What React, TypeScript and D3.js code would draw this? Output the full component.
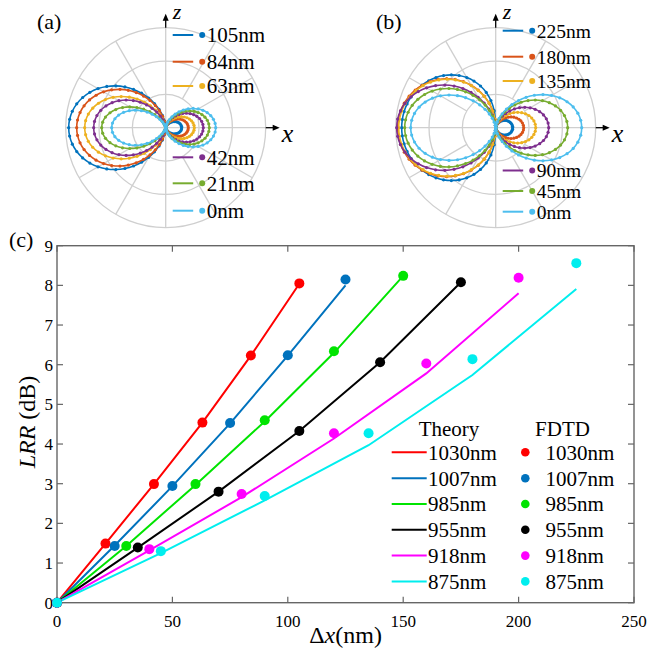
import React from "react";
import * as d3 from "d3";

const FONT = "Liberation Serif";

// ---------- Panel (c) data ----------
const wavelengths = ["1030nm", "1007nm", "985nm", "955nm", "918nm", "875nm"];
const lineColors = ["#ff0000", "#0072bd", "#00e400", "#000000", "#ff00ff", "#00eeee"];
const dx1030 = [0, 21, 42, 63, 84, 105];
const dx1007 = [0, 25, 50, 75, 100, 125];
const dx985 = [0, 30, 60, 90, 120, 150];
const dx955 = [0, 35, 70, 105, 140, 175];
const dx918 = [0, 40, 80, 120, 160, 200];
const dx875 = [0, 45, 90, 135, 180, 225];
const theory1030 = [0, 1.49, 2.99, 4.54, 6.23, 8.04];
const theory1007 = [0, 1.44, 2.94, 4.52, 6.23, 8.0];
const theory985 = [0, 1.43, 2.97, 4.57, 6.3, 8.24];
const theory955 = [0, 1.39, 2.8, 4.33, 6.06, 8.08];
const theory918 = [0, 1.32, 2.66, 4.14, 5.78, 7.8];
const theory875 = [0, 1.25, 2.58, 3.97, 5.74, 7.91];
const fdtd1030 = [0, 1.49, 2.99, 4.54, 6.23, 8.05];
const fdtd1007 = [0, 1.43, 2.94, 4.53, 6.24, 8.15];
const fdtd985 = [0, 1.43, 2.99, 4.6, 6.34, 8.24];
const fdtd955 = [0, 1.39, 2.8, 4.33, 6.06, 8.08];
const fdtd918 = [0, 1.35, 2.74, 4.27, 6.03, 8.19];
const fdtd875 = [0, 1.3, 2.69, 4.27, 6.14, 8.56];
const xTicks = [0, 50, 100, 150, 200, 250];
const yTicks = [0, 1, 2, 3, 4, 5, 6, 7, 8, 9];

const dxSeries = [dx1030, dx1007, dx985, dx955, dx918, dx875];
const theorySeries = [theory1030, theory1007, theory985, theory955, theory918, theory875];
const fdtdSeries = [fdtd1030, fdtd1007, fdtd985, fdtd955, fdtd918, fdtd875];

// ---------- Polar panels data ----------
// normalized lobe profiles, sampled every 5 degrees from lobe axis (0..90 deg)
const profileP07 = [1, 0.9973, 0.9893, 0.976, 0.9574, 0.9334, 0.9042, 0.8697, 0.8298, 0.7846, 0.7339, 0.6778, 0.6156, 0.5472, 0.4719, 0.3882, 0.2936, 0.1813, 0];
const profileP10 = [1, 0.9962, 0.9848, 0.9659, 0.9397, 0.9063, 0.866, 0.8192, 0.766, 0.7071, 0.6428, 0.5736, 0.5, 0.4226, 0.342, 0.2588, 0.1736, 0.0872, 0];
const profileP15 = [1, 0.9943, 0.9773, 0.9493, 0.9109, 0.8628, 0.8059, 0.7415, 0.6704, 0.5946, 0.5153, 0.4344, 0.3536, 0.2747, 0.2, 0.1317, 0.0723, 0.0258, 0];
const profileP20 = [1, 0.9924, 0.9698, 0.933, 0.883, 0.8214, 0.75, 0.671, 0.5868, 0.5, 0.4132, 0.329, 0.25, 0.1786, 0.117, 0.067, 0.0302, 0.0076, 0];
const profileP30 = [1, 0.9886, 0.9551, 0.9012, 0.8298, 0.7444, 0.6495, 0.5497, 0.4495, 0.3536, 0.2656, 0.1887, 0.125, 0.0755, 0.04, 0.0173, 0.0052, 0.0007, 0];
const profileStepDeg = 5;

const polarColors = ["#0072BD", "#D95319", "#EDB120", "#7E2F8E", "#77AC30", "#4DBEEE"];
const labelsA = ["105nm", "84nm", "63nm", "42nm", "21nm", "0nm"];
const leftAmpA = [0.97, 0.89, 0.81, 0.72, 0.64, 0.54];
const rightAmpA = [0.16, 0.226, 0.286, 0.376, 0.436, 0.5];
const leftShapeA = [profileP15, profileP15, profileP20, profileP20, profileP30, profileP30];
const rightShapeA = [profileP20, profileP20, profileP20, profileP20, profileP20, profileP20];

const labelsB = ["225nm", "180nm", "135nm", "90nm", "45nm", "0nm"];
const leftAmpB = [0.94, 0.98, 0.97, 0.99, 0.91, 0.85];
const rightAmpB = [0.17, 0.28, 0.4, 0.53, 0.72, 0.86];
const leftShapeB = [profileP07, profileP10, profileP10, profileP15, profileP15, profileP20];
const rightShapeB = [profileP15, profileP20, profileP20, profileP20, profileP20, profileP20];

const ringLevels = [1 / 3, 2 / 3, 1];
const spokeAngles = [30, 60, 120, 150, 210, 240, 300, 330];

type PolarProps = {
  cx: number;
  cy: number;
  R: number;
  tag: string;
  tagX: number;
  labels: string[];
  leftAmp: number[];
  rightAmp: number[];
  leftShape: number[][];
  rightShape: number[][];
  legendY: number[];
  legendFont: number;
};

function lobePoints(amp: number, prof: number[], axisDeg: number) {
  const n = prof.length - 1;
  const pts: { a: number; r: number }[] = [];
  for (let j = -n; j <= n; j++) {
    const k = Math.abs(j);
    pts.push({ a: ((axisDeg + j * profileStepDeg) * Math.PI) / 180, r: amp * prof[k] });
  }
  return pts;
}

function PolarPanel(p: PolarProps) {
  const { cx, cy, R } = p;
  const rs = d3.scaleLinear().domain([0, 1]).range([0, R]);
  const px = (d: { a: number; r: number }) => cx + rs(d.r) * Math.cos(d.a);
  const py = (d: { a: number; r: number }) => cy - rs(d.r) * Math.sin(d.a);
  const line = d3.line<{ a: number; r: number }>().x(px).y(py).curve(d3.curveCatmullRom);
  const grid = "#cfcfcf";
  return (
    <g>
      {ringLevels.map((l, i) => (
        <circle key={i} cx={cx} cy={cy} r={rs(l)} fill="none" stroke={grid} strokeWidth={1.3} />
      ))}
      {spokeAngles.map((a, i) => {
        const t = (a * Math.PI) / 180;
        return (
          <line key={i} x1={cx + rs(1 / 3) * Math.cos(t)} y1={cy - rs(1 / 3) * Math.sin(t)}
            x2={cx + rs(1) * Math.cos(t)} y2={cy - rs(1) * Math.sin(t)} stroke={grid} strokeWidth={1.3} />
        );
      })}
      <line x1={cx - R} y1={cy} x2={cx + R} y2={cy} stroke={grid} strokeWidth={1.3} />
      <line x1={cx} y1={cy - R} x2={cx} y2={cy + R} stroke={grid} strokeWidth={1.3} />
      <line x1={cx + R} y1={cy} x2={cx + R + 9} y2={cy} stroke="#000" strokeWidth={1.3} />
      <polygon points={`${cx + R + 14},${cy} ${cx + R + 7},${cy - 3} ${cx + R + 7},${cy + 3}`} fill="#000" />
      <line x1={cx} y1={cy - R} x2={cx} y2={cy - R - 9} stroke="#000" strokeWidth={1.3} />
      <polygon points={`${cx},${cy - R - 14} ${cx - 3},${cy - R - 7} ${cx + 3},${cy - R - 7}`} fill="#000" />
      <text x={cx + 7} y={cy - R - 9} fontFamily={FONT} fontStyle="italic" fontSize={22}>z</text>
      <text x={cx + R + 16} y={cy + 14} fontFamily={FONT} fontStyle="italic" fontSize={26}>x</text>
      <text x={p.tagX} y={cy - R + 1} fontFamily={FONT} fontSize={22}>{p.tag}</text>
      {p.labels.map((lab, i) => {
        const L = lobePoints(p.leftAmp[i], p.leftShape[i], 180);
        const Rt = lobePoints(p.rightAmp[i], p.rightShape[i], 0);
        const c = polarColors[i];
        return (
          <g key={lab}>
            <path d={line(L) || ""} fill="none" stroke={c} strokeWidth={1.6} />
            <path d={line(Rt) || ""} fill="none" stroke={c} strokeWidth={1.6} />
            {L.concat(Rt).map((d, k) => (
              <circle key={k} cx={px(d)} cy={py(d)} r={1.6} fill={c} />
            ))}
          </g>
        );
      })}
      {p.labels.map((lab, i) => (
        <g key={"lg" + lab}>
          <line x1={cx + 7} x2={cx + 27.5} y1={p.legendY[i]} y2={p.legendY[i]} stroke={polarColors[i]} strokeWidth={2} />
          <circle cx={cx + 36.5} cy={p.legendY[i]} r={3} fill={polarColors[i]} />
          <text x={cx + 41} y={p.legendY[i]} dy="0.35em" fontFamily={FONT} fontSize={p.legendFont}>{lab}</text>
        </g>
      ))}
    </g>
  );
}

function LRRChart() {
  const x = d3.scaleLinear().domain([0, 250]).range([57, 634]);
  const y = d3.scaleLinear().domain([0, 9]).range([602.7, 245.7]);
  const [x0, x1] = x.range();
  const [y0, y1] = y.range();
  const axis = "#666";
  const line = d3.line<[number, number]>().x((d) => x(d[0])).y((d) => y(d[1]));
  const legRowY = [452.3, 478.2, 504, 529.8, 555.6, 581.4];
  return (
    <g>
      <rect x={x0} y={y1} width={x1 - x0} height={y0 - y1} fill="none" stroke={axis} strokeWidth={1.4} />
      {xTicks.map((t) => (
        <g key={"xt" + t}>
          <line x1={x(t)} x2={x(t)} y1={y0} y2={y0 - 6} stroke={axis} strokeWidth={1.2} />
          <line x1={x(t)} x2={x(t)} y1={y1} y2={y1 + 6} stroke={axis} strokeWidth={1.2} />
          <text x={x(t)} y={626.5} textAnchor="middle" fontFamily={FONT} fontSize={17}>{t}</text>
        </g>
      ))}
      {yTicks.map((t) => (
        <g key={"yt" + t}>
          <line x1={x0} x2={x0 + 6} y1={y(t)} y2={y(t)} stroke={axis} strokeWidth={1.2} />
          <line x1={x1} x2={x1 - 6} y1={y(t)} y2={y(t)} stroke={axis} strokeWidth={1.2} />
          <text x={53} y={y(t)} dy="0.35em" textAnchor="end" fontFamily={FONT} fontSize={17}>{t}</text>
        </g>
      ))}
      {theorySeries.map((s, i) => (
        <path key={"th" + i} d={line(s.map((v, k) => [dxSeries[i][k], v] as [number, number])) || ""}
          fill="none" stroke={lineColors[i]} strokeWidth={2} />
      ))}
      {fdtdSeries.map((s, i) =>
        s.map((v, k) => (
          <circle key={"fd" + i + "-" + k} cx={x(dxSeries[i][k])} cy={y(v)} r={5} fill={lineColors[i]} />
        ))
      )}
      <text x={449} y={436} textAnchor="middle" fontFamily={FONT} fontSize={21}>Theory</text>
      <text x={562.5} y={436} textAnchor="middle" fontFamily={FONT} fontSize={21}>FDTD</text>
      {wavelengths.map((w, i) => (
        <g key={"leg" + w}>
          <line x1={391.7} x2={426.7} y1={legRowY[i]} y2={legRowY[i]} stroke={lineColors[i]} strokeWidth={2} />
          <text x={428} y={legRowY[i]} dy="0.35em" fontFamily={FONT} fontSize={21}>{w}</text>
          <circle cx={525.3} cy={legRowY[i]} r={4.3} fill={lineColors[i]} />
          <text x={545.5} y={legRowY[i]} dy="0.35em" fontFamily={FONT} fontSize={21}>{w}</text>
        </g>
      ))}
      <text x={345.5} y={643} textAnchor="middle" fontFamily={FONT} fontSize={24}>
        {"\u0394"}<tspan fontStyle="italic">x</tspan>(nm)
      </text>
      <text transform="translate(35,422) rotate(-90)" textAnchor="middle" fontFamily={FONT} fontSize={24}>
        <tspan fontStyle="italic">LRR</tspan> (dB)
      </text>
      <text x={9} y={247} fontFamily={FONT} fontSize={22}>(c)</text>
    </g>
  );
}

export default function App() {
  return (
    <svg width={658} height={654} style={{ position: "absolute", left: 0, top: 0, background: "#fff" }}>
      <rect width={658} height={654} fill="#fff" />
      <PolarPanel cx={165.7} cy={127.7} R={100} tag="(a)" tagX={37} labels={labelsA}
        leftAmp={leftAmpA} rightAmp={rightAmpA} leftShape={leftShapeA} rightShape={rightShapeA}
        legendY={[35, 61.7, 86, 157.3, 183.3, 210.7]} legendFont={21} />
      <PolarPanel cx={495.7} cy={127.7} R={100} tag="(b)" tagX={376} labels={labelsB}
        leftAmp={leftAmpB} rightAmp={rightAmpB} leftShape={leftShapeB} rightShape={rightShapeB}
        legendY={[30.7, 56.7, 81, 170.5, 191, 211.7]} legendFont={19.5} />
      <LRRChart />
    </svg>
  );
}
